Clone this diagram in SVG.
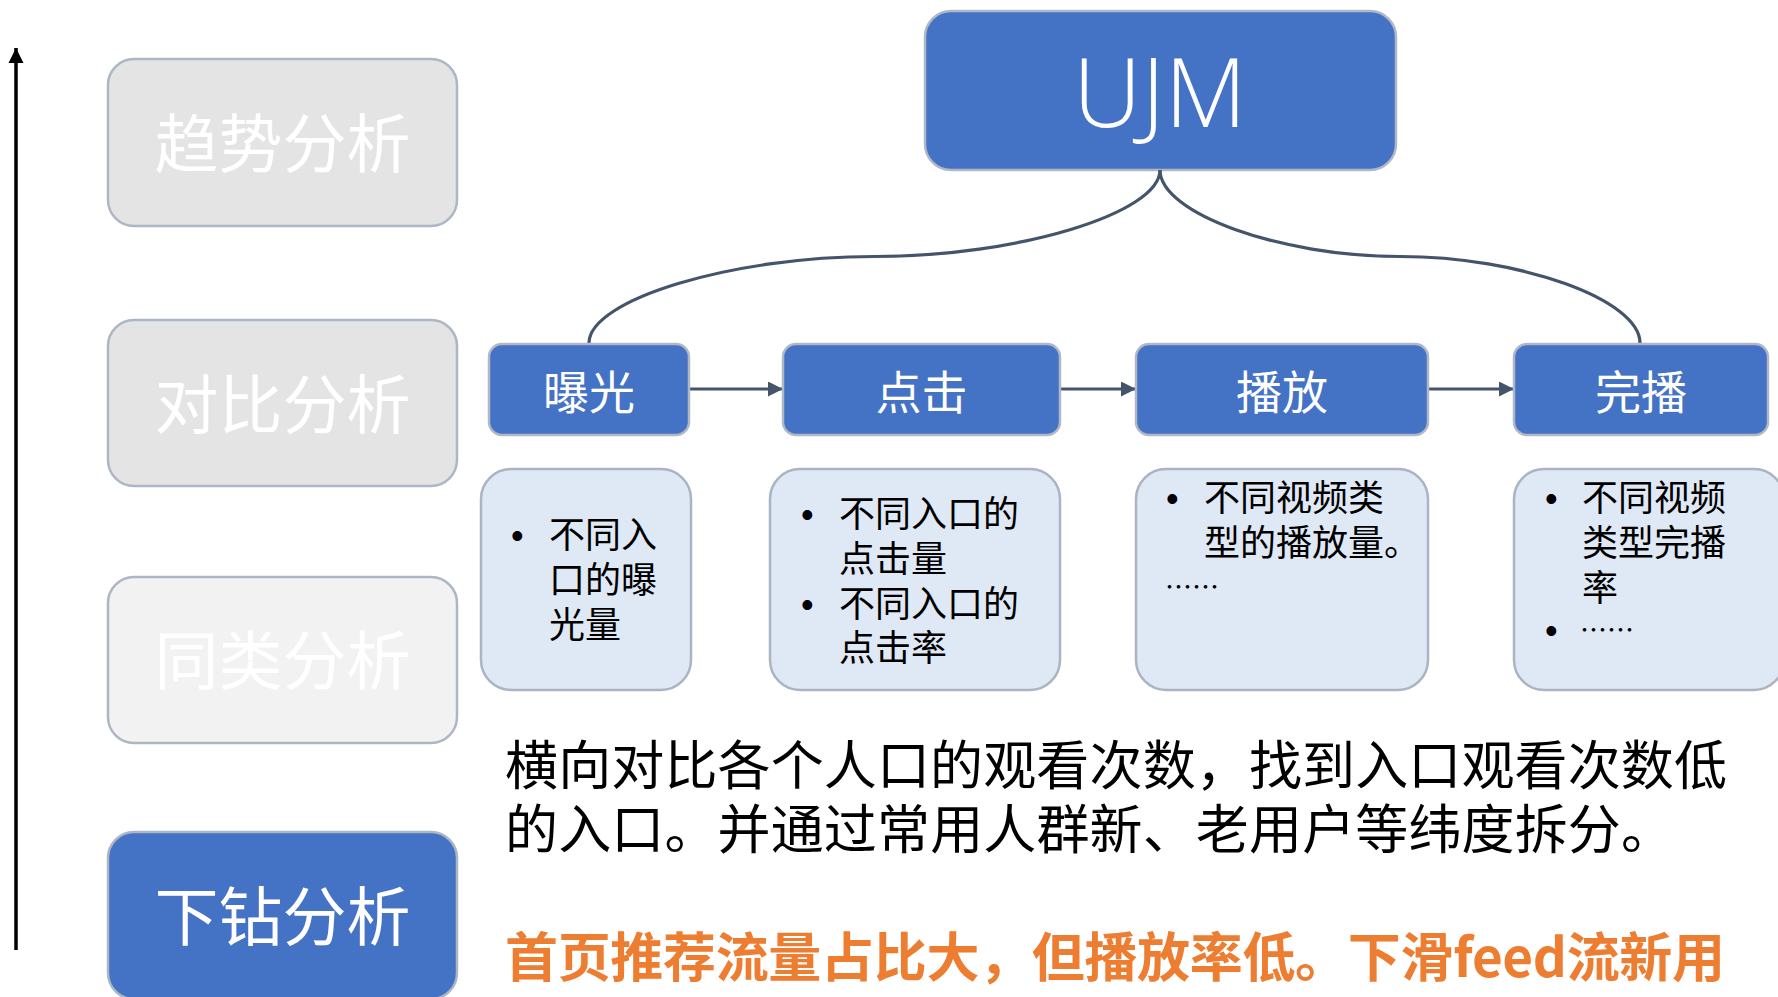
<svg xmlns="http://www.w3.org/2000/svg" width="1778" height="997" viewBox="0 0 1778 997">
<style>
.lvl{stroke:#adb6c4;stroke-width:2.5}
.lvltxt{font-family:"Noto Sans CJK SC","Noto Sans",sans-serif;font-size:64px;fill:#ffffff;text-anchor:middle}
.step{fill:#4472c4;stroke:#b0b8c6;stroke-width:2.5}
.steptxt{font-family:"Noto Sans CJK SC","Noto Sans",sans-serif;font-size:46px;fill:#ffffff;text-anchor:middle}
.det{fill:#dfe8f5;stroke:#abb4c3;stroke-width:2.5}
.dettxt{font-family:"Noto Sans CJK SC","Noto Sans",sans-serif;font-size:36px;fill:#000000}
.bul{font-family:"Liberation Sans",Arial,sans-serif;font-size:36px}
.ell{font-size:27px}
.conn{fill:none;stroke:#44546a;stroke-width:3.2}
.body{font-family:"Noto Sans CJK SC","Noto Sans",sans-serif;font-size:53px;fill:#000000}
.hl{font-family:"Noto Sans CJK SC","Noto Sans",sans-serif;font-size:53px;font-weight:bold;fill:#ed7d31}
</style>
<defs>
<marker id="ah" viewBox="0 0 10 10" refX="10" refY="5" markerWidth="15" markerHeight="15" markerUnits="userSpaceOnUse" orient="auto">
<path d="M0,0 L10,5 L0,10 z" fill="#44546a"/>
</marker>
<marker id="ahk" viewBox="0 0 10 10" refX="10" refY="5" markerWidth="15" markerHeight="16" markerUnits="userSpaceOnUse" orient="auto">
<path d="M0,0 L10,5 L0,10 z" fill="#000000"/>
</marker>
</defs>
<rect width="1778" height="997" fill="#ffffff"/>

<g id="axis">
<line x1="16" y1="950" x2="16" y2="48" stroke="#000000" stroke-width="3.5" marker-end="url(#ahk)"/>
</g>

<g id="level-trend">
<rect class="lvl" x="108" y="59" width="349" height="167" rx="26" fill="#e4e4e4"/>
<text class="lvltxt" x="282.5" y="167">趋势分析</text>
</g>
<g id="level-compare">
<rect class="lvl" x="108" y="320" width="349" height="166" rx="26" fill="#e4e4e4"/>
<text class="lvltxt" x="282.5" y="427.5">对比分析</text>
</g>
<g id="level-similar">
<rect class="lvl" x="108" y="577" width="349" height="166" rx="26" fill="#f2f2f2"/>
<text class="lvltxt" x="282.5" y="684">同类分析</text>
</g>
<g id="level-drill">
<rect class="lvl" x="108" y="832" width="349" height="167" rx="26" fill="#4472c4"/>
<text class="lvltxt" x="282.5" y="940">下钻分析</text>
</g>

<g id="ujm">
<rect x="925" y="11" width="471" height="159" rx="26" fill="#4472c4" stroke="#b0b8c6" stroke-width="2.5"/>
<text x="1160" y="127" font-family="'Open Sans','Segoe UI','Noto Sans',sans-serif" font-weight="300" font-size="95" fill="#ffffff" text-anchor="middle">UJM</text>
</g>

<g id="connectors">
<path class="conn" d="M1160,170 C1160,213.25 1017.25,256.5 874.5,256.5 C731.75,256.5 589,299.75 589,343"/>
<path class="conn" d="M1160,170 C1160,213.25 1280,256.5 1400,256.5 C1520,256.5 1640,299.75 1640,343"/>
<line class="conn" x1="689" y1="389" x2="783" y2="389" marker-end="url(#ah)"/>
<line class="conn" x1="1060" y1="389" x2="1136" y2="389" marker-end="url(#ah)"/>
<line class="conn" x1="1428" y1="389" x2="1514" y2="389" marker-end="url(#ah)"/>
</g>

<g id="step-exposure">
<rect class="step" x="489" y="344" width="200" height="91" rx="13"/>
<text class="steptxt" x="589" y="408.5">曝光</text>
</g>
<g id="step-click">
<rect class="step" x="783" y="344" width="277" height="91" rx="13"/>
<text class="steptxt" x="921.5" y="408.5">点击</text>
</g>
<g id="step-play">
<rect class="step" x="1136" y="344" width="292" height="91" rx="13"/>
<text class="steptxt" x="1282" y="408.5">播放</text>
</g>
<g id="step-complete">
<rect class="step" x="1514" y="344" width="254" height="91" rx="13"/>
<text class="steptxt" x="1641" y="408.5">完播</text>
</g>

<g id="detail-exposure">
<rect class="det" x="481" y="469" width="210" height="221" rx="30"/>
<text class="dettxt"><tspan class="bul" x="511" y="548">•</tspan><tspan x="549" y="548">不同入</tspan><tspan x="549" y="593">口的曝</tspan><tspan x="549" y="638">光量</tspan></text>
</g>
<g id="detail-click">
<rect class="det" x="770" y="469" width="290" height="221" rx="30"/>
<text class="dettxt"><tspan class="bul" x="801" y="527">•</tspan><tspan x="839" y="527">不同入口的</tspan><tspan x="839" y="572">点击量</tspan><tspan class="bul" x="801" y="617">•</tspan><tspan x="839" y="617">不同入口的</tspan><tspan x="839" y="661">点击率</tspan></text>
</g>
<g id="detail-play">
<rect class="det" x="1136" y="469" width="292" height="221" rx="30"/>
<text class="dettxt"><tspan class="bul" x="1166" y="511">•</tspan><tspan x="1204" y="511">不同视频类</tspan><tspan x="1204" y="556">型的播放量。</tspan><tspan class="ell" x="1165" y="597">……</tspan></text>
</g>
<g id="detail-complete">
<rect class="det" x="1514" y="469" width="270" height="221" rx="30"/>
<text class="dettxt"><tspan class="bul" x="1545" y="511">•</tspan><tspan x="1582" y="511">不同视频</tspan><tspan x="1582" y="556">类型完播</tspan><tspan x="1582" y="601">率</tspan><tspan class="bul" x="1545" y="643">•</tspan><tspan class="ell" x="1580" y="640">……</tspan></text>
</g>

<g id="notes">
<text class="body"><tspan x="505" y="785" textLength="1222" lengthAdjust="spacing">横向对比各个人口的观看次数，找到入口观看次数低</tspan><tspan x="505" y="849" textLength="1169" lengthAdjust="spacing">的入口。并通过常用人群新、老用户等纬度拆分。</tspan></text>
<text class="hl" x="505" y="977" textLength="1220" lengthAdjust="spacing">首页推荐流量占比大，但播放率低。下滑feed流新用</text>
</g>
</svg>
